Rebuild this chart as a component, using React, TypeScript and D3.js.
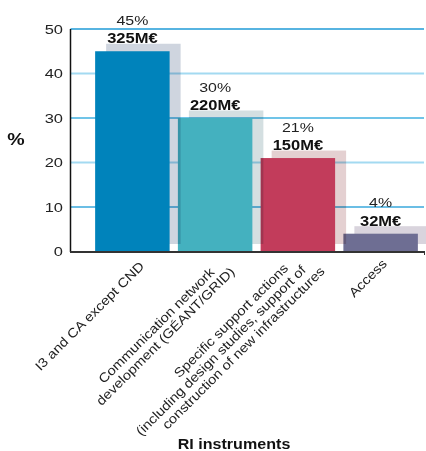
import React from "react";
import * as d3 from "d3";

const categories = ["I3", "COMM", "SSA", "ACCESS"];
const labelLines = [
  ["I3 and CA except CND"],
  ["Communication network", "development (GÉANT/GRID)"],
  ["Specific support actions", "(including design studies, support of", "construction of new infrastructures"],
  ["Access"],
];
const percents = [45, 30, 21, 4];
const amounts = ["325M€", "220M€", "150M€", "32M€"];
const yTicks = [0, 10, 20, 30, 40, 50];

// styling / layout (not data)
const barColors = ["#0083bb", "#44b1bf", "#c23c5b", "#6e6e93"];
const shadowColors = ["#cfd5df", "#d4dfe1", "#e4d0d1", "#d9d4dd"];
const gridColors = ["#3aa9dd", "#3aa9dd", "#a3daf1", "#40b0e0", "#a3daf1", "#1f9bd7"];
const labelAnchor = [
  [12.5, 267],
  [0, 273],
  [-9, 269],
  [7, 264.5],
];
const lineShift = [[0], [0, 13], [0, 10, 21]];
lineShift.push([0]);

const W = 426;
const H = 451;
const FONT = "'Liberation Sans', Arial, Helvetica, sans-serif";
const SX = 1.18;

export default function App() {
  const y = d3.scaleLinear().domain([0, 50]).range([251.5, 29]);
  const x = d3
    .scaleBand<string>()
    .domain(categories)
    .range([91, 422])
    .paddingInner(0.1)
    .paddingOuter(0.05);
  const axisX = 70.5;
  const bw = x.bandwidth();
  const shOff = [11, -7.5];

  const order = categories.map((_, i) => i).reverse();

  return (
    <svg
      width={W}
      height={H}
      style={{ position: "absolute", left: 0, top: 0, background: "#fff" }}
      fontFamily={FONT}
    >
      <rect width={W} height={H} fill="#fff" />
      {yTicks.map((t, i) =>
        t === 0 ? null : (
          <line
            key={"g" + t}
            x1={axisX}
            x2={424}
            y1={y(t)}
            y2={y(t)}
            stroke={gridColors[i]}
            strokeWidth={i % 2 === 0 ? 1.8 : 1.3}
          />
        )
      )}
      {order.map((i) => {
        const c = categories[i];
        const bx = x(c)!;
        const top = y(percents[i]);
        return (
          <g key={c}>
            <rect
              x={bx + shOff[0]}
              y={top + shOff[1]}
              width={bw}
              height={y(0) - top}
              fill={shadowColors[i]}
              style={{ mixBlendMode: "multiply" }}
            />
            <rect x={bx} y={top} width={bw} height={y(0) - top} fill={barColors[i]} />
          </g>
        );
      })}
      <line x1={axisX} x2={axisX} y1={y(50)} y2={252} stroke="#111" strokeWidth={1.5} />
      <line x1={axisX - 0.5} x2={425} y1={252} y2={252} stroke="#333" strokeWidth={2} />
      <line x1={424.5} x2={424.5} y1={251} y2={255} stroke="#333" strokeWidth={1} />
      {yTicks.map((t) => (
        <text
          key={"t" + t}
          transform={`translate(63,${y(t)}) scale(1.22,1)`}
          textAnchor="end"
          dy="0.36em"
          fontSize={13.5}
          fill="#222"
        >
          {t}
        </text>
      ))}
      <text
        transform={`translate(16,145) scale(1.15,1)`}
        textAnchor="middle"
        fontSize={17}
        fontWeight="bold"
        fill="#111"
      >
        %
      </text>
      {categories.map((c, i) => {
        const cx = x(c)! + bw / 2;
        const top = y(percents[i]);
        return (
          <g key={"v" + c}>
            <text
              transform={`translate(${cx},${top - 26.5}) scale(${SX},1)`}
              textAnchor="middle"
              fontSize={13.5}
              fill="#222"
            >
              {percents[i]}%
            </text>
            <text
              transform={`translate(${cx},${top - 8}) scale(${SX},1)`}
              textAnchor="middle"
              fontSize={14}
              fontWeight="bold"
              fill="#111"
            >
              {amounts[i]}
            </text>
          </g>
        );
      })}
      {categories.map((c, i) => {
        const cx = x(c)! + bw / 2;
        const [dx, ay] = labelAnchor[i];
        return (
          <g
            key={"l" + c}
            transform={`translate(${cx + dx},${ay}) rotate(-45) scale(1.13,1)`}
          >
            {labelLines[i].map((ln, j) => (
              <text
                key={j}
                x={lineShift[i][j]}
                y={j * 14}
                textAnchor="end"
                fontSize={13}
                fill="#222"
              >
                {ln}
              </text>
            ))}
          </g>
        );
      })}
      <text
        transform={`translate(234,449) scale(1.15,1)`}
        textAnchor="middle"
        fontSize={14}
        fontWeight="bold"
        fill="#111"
      >
        RI instruments
      </text>
    </svg>
  );
}
